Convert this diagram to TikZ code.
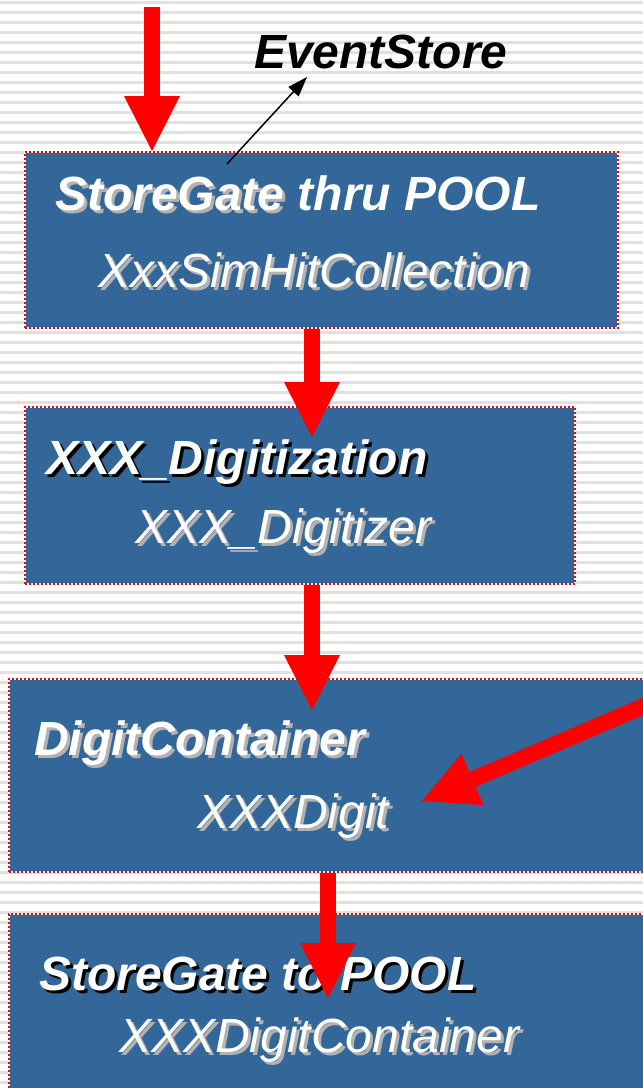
\documentclass[tikz,border=0pt]{standalone}
\usepackage{fontspec}
\setmainfont{Liberation Sans}
\usetikzlibrary{arrows.meta}
\definecolor{boxblue}{RGB}{51,102,153}
\definecolor{stripecol}{RGB}{224,224,224}
\definecolor{shgray}{RGB}{178,178,178}
\newcommand\shadtxt[2]{\rlap{\kern3pt\raisebox{-3pt}{\textcolor{#1}{#2}}}#2}
\tikzset{
  box/.style={fill=boxblue, draw=white, line width=2pt, inner sep=0pt, anchor=north west,
    postaction={draw=red, line width=2pt, dash pattern=on 2pt off 2pt}},
  lbl/.style={anchor=base west, inner sep=0pt, font=\fontsize{48}{58}\selectfont\itshape},
  main/.style={lbl, text=white},
  flow/.style={draw=red, line width=16pt, -{Triangle[length=55pt,width=56pt,line width=0pt]}},
  thin/.style={draw=black, line width=1.5pt, -{Triangle[length=20pt,width=14pt,line width=0pt]}}
}
\begin{document}
\begin{tikzpicture}[x=1pt,y=-1pt]
\useasboundingbox (0,0) rectangle (643,1088);
\clip (0,0) rectangle (643,1088);
\fill[white] (0,0) rectangle (643,1088);
\foreach \k in {0,...,108} \draw[stripecol, line width=3pt] (0,{2.7+10*\k}) -- (643,{2.7+10*\k});

% boxes
\node[box, minimum width=593pt, minimum height=176pt] (b1) at (24,151) {};
\node[box, minimum width=550pt, minimum height=177pt] (b2) at (24,406) {};
\node[box, minimum width=660pt, minimum height=193pt] (b3) at (8,678) {};
\node[box, minimum width=660pt, minimum height=200pt] (b4) at (8,913) {};

% EventStore
\node[lbl, text=black, font=\fontsize{48}{58}\selectfont\itshape\bfseries] (es) at (254,68) {EventStore};

% box texts
\node[main] (t1a) at (55,210) {\bfseries\shadtxt{shgray}{StoreGate} thru POOL};
\node[main] (t1b) at (98,287) {\shadtxt{shgray}{XxxSimHitCollection}};
\node[main] (t2a) at (46,474) {\bfseries\shadtxt{black}{XXX\_Digitization}};
\node[main] (t2b) at (135,543) {\shadtxt{shgray}{XXX\_Digitizer}};
\node[main] (t3a) at (34,755) {\bfseries\shadtxt{shgray}{DigitContainer}};
\node[main] (t3b) at (197,828) {\shadtxt{shgray}{XXXDigit}};
\node[main] (t4a) at (39,990) {\bfseries\shadtxt{black}{StoreGate to POOL}};
\node[main] (t4b) at (119,1052) {\shadtxt{shgray}{XXXDigitContainer}};

% connectors
\coordinate (s0) at (152,7);
\draw[flow] (s0) -- (s0 |- b1.north);
\coordinate (t2) at (312,437);
\draw[flow] (t2 |- b1.south) -- (t2);
\coordinate (t3) at (312,710);
\draw[flow] (t3 |- b2.south) -- (t3);
\coordinate (t4) at (328,998);
\draw[flow] (t4 |- b3.south) -- (t4);
\coordinate (d0) at (665,697);
\coordinate (d1) at (422,801);
\draw[flow] (d0) -- (d1);
\coordinate (e0) at (227,164);
\coordinate (e1) at (307,77);
\draw[thin] (e0) -- (e1);
\end{tikzpicture}
\end{document}
